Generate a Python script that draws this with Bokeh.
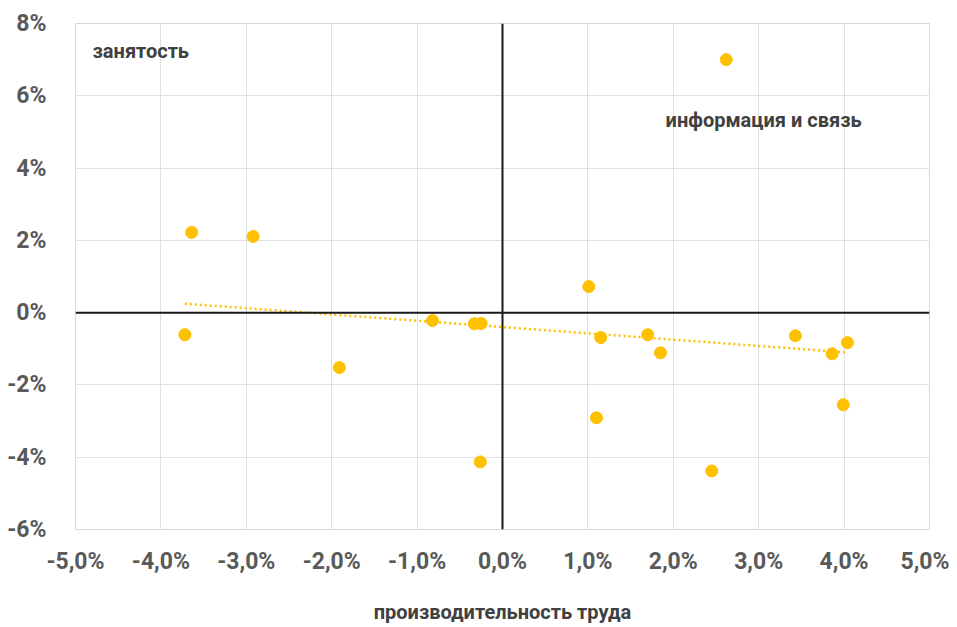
import numpy as np
from bokeh.plotting import figure
from bokeh.models import Span, Label, FixedTicker, ColumnDataSource
from bokeh.embed import file_html
from bokeh.resources import INLINE

# productivity growth (%), employment growth (%)
productivity = [-3.64, -2.92, -3.72, -1.91, -0.82, -0.33, -0.25, -0.26, 1.01, 1.15,
                1.10, 1.70, 1.85, 2.45, 3.43, 3.86, 4.04, 3.99, 2.62]
employment = [2.22, 2.11, -0.61, -1.52, -0.22, -0.31, -0.30, -4.13, 0.72, -0.69,
              -2.91, -0.61, -1.11, -4.38, -0.64, -1.14, -0.83, -2.55, 7.00]

x_ticks = [-5, -4, -3, -2, -1, 0, 1, 2, 3, 4, 5]
x_tick_labels = ["-5,0%", "-4,0%", "-3,0%", "-2,0%", "-1,0%", "0,0%", "1,0%", "2,0%", "3,0%", "4,0%", "5,0%"]
y_ticks = [-6, -4, -2, 0, 2, 4, 6, 8]
y_tick_labels = ["-6%", "-4%", "-2%", "0%", "2%", "4%", "6%", "8%"]

x_title = "производительность труда"
y_title = "занятость"
highlight = "информация и связь"

GOLD = "#FFC000"
TICK_FONT = "Roboto"
TXT_FONT = "Roboto"

p = figure(frame_width=854, frame_height=506, x_range=(-5, 5), y_range=(-6, 8),
           output_backend="svg", toolbar_location=None,
           min_border_left=75, min_border_right=20, min_border_top=23, min_border_bottom=60)

p.outline_line_color = "#d9d9d9"
p.outline_line_width = 1
p.xgrid.ticker = FixedTicker(ticks=x_ticks)
p.ygrid.ticker = FixedTicker(ticks=y_ticks)
p.xgrid.grid_line_color = "#e0e0e0"
p.ygrid.grid_line_color = "#e0e0e0"

for ax, ticks, labels in ((p.xaxis[0], x_ticks, x_tick_labels), (p.yaxis[0], y_ticks, y_tick_labels)):
    ax.ticker = FixedTicker(ticks=ticks)
    ax.major_label_overrides = {t: l for t, l in zip(ticks, labels)}
    ax.axis_line_color = None
    ax.major_tick_line_color = None
    ax.minor_tick_line_color = None
    ax.major_label_text_font = TICK_FONT
    ax.major_label_text_font_style = "bold"
    ax.major_label_text_font_size = "23px"
    ax.major_label_text_color = "#595959"

p.xaxis.major_label_standoff = 12
p.yaxis.major_label_standoff = 23

p.xaxis.axis_label = x_title
p.xaxis.axis_label_text_font = TXT_FONT
p.xaxis.axis_label_text_font_style = "bold"
p.xaxis.axis_label_text_font_size = "20px"
p.xaxis.axis_label_text_color = "#404040"
p.xaxis.axis_label_standoff = 22

p.add_layout(Span(location=0, dimension="width", line_color="#1a1a1a", line_width=2))
p.add_layout(Span(location=0, dimension="height", line_color="#1a1a1a", line_width=2))

# linear trend
coef = np.polyfit(productivity, employment, 1)
xs = [min(productivity), max(productivity)]
ys = [coef[0] * v + coef[1] for v in xs]
p.line(xs, ys, line_color=GOLD, line_width=2.5, line_dash="2 3")

src = ColumnDataSource(dict(x=productivity, y=employment))
p.scatter("x", "y", source=src, size=12, fill_color=GOLD, line_color=GOLD)

p.add_layout(Label(x=-4.8, y=7.25, text=y_title, text_font=TXT_FONT, text_font_style="bold",
                   text_font_size="20px", text_color="#404040", text_baseline="middle"))
p.add_layout(Label(x=1.91, y=5.33, text=highlight, text_font=TXT_FONT, text_font_style="bold",
                   text_font_size="20px", text_color="#404040", text_baseline="middle"))

open("out.html", "w").write(file_html(p, INLINE))
